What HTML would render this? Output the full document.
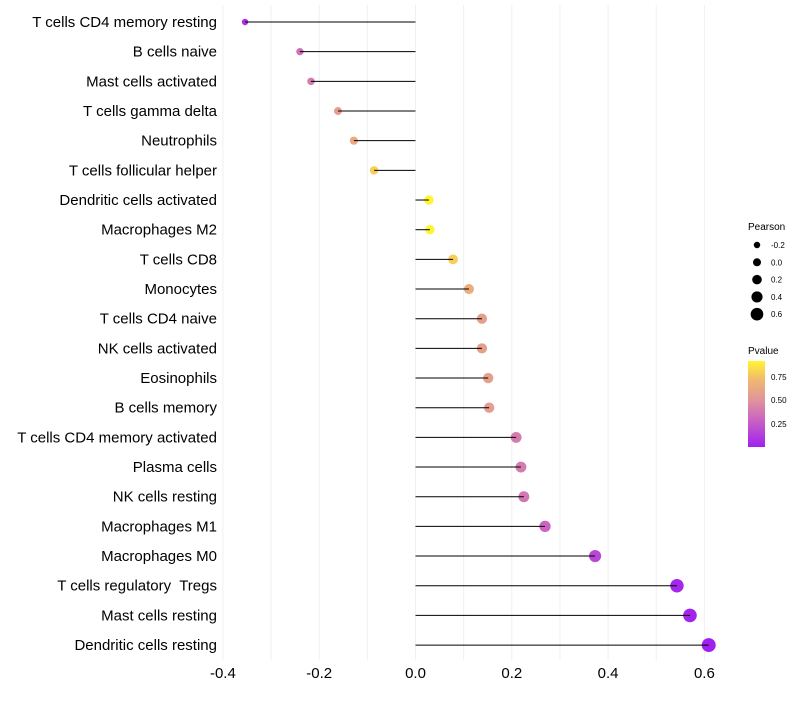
<!DOCTYPE html>
<html><head><meta charset="utf-8"><style>
body{margin:0;background:#fff;font-family:"Liberation Sans",sans-serif}
</style></head><body>
<svg id="c" width="800" height="700" xmlns="http://www.w3.org/2000/svg">
<defs><linearGradient id="pg" x1="0" y1="1" x2="0" y2="0">
<stop offset="0" stop-color="#A020F0"/><stop offset="0.33" stop-color="#CC66C0"/><stop offset="0.55" stop-color="#E0959A"/><stop offset="0.78" stop-color="#F0B870"/><stop offset="1" stop-color="#FFF530"/></linearGradient></defs>
<g id="grid"></g><g id="dots"></g><g id="marks"></g><g id="labels"></g>
<g font-size="10" fill="#000">
<text x="748" y="230" font-size="10">Pearson</text>
<g id="sizeleg"></g></g>
<g>
<text x="748" y="354" font-size="10">Pvalue</text>
<rect x="748" y="361" width="17" height="86" fill="url(#pg)"/>
<g font-size="8"><text x="771" y="380">0.75</text><text x="771" y="403">0.50</text><text x="771" y="427">0.25</text></g>
</g>
</svg>
<script>
const cats=["T cells CD4 memory resting","B cells naive","Mast cells activated","T cells gamma delta","Neutrophils","T cells follicular helper","Dendritic cells activated","Macrophages M2","T cells CD8","Monocytes","T cells CD4 naive","NK cells activated","Eosinophils","B cells memory","T cells CD4 memory activated","Plasma cells","NK cells resting","Macrophages M1","Macrophages M0","T cells regulatory  Tregs","Mast cells resting","Dendritic cells resting"];
const pearson=[-0.354,-0.24,-0.217,-0.161,-0.128,-0.086,0.028,0.030,0.078,0.111,0.138,0.138,0.151,0.153,0.209,0.219,0.225,0.269,0.373,0.543,0.570,0.609];
const pvals=[0.10,0.35,0.40,0.55,0.62,0.78,0.9,0.9,0.78,0.64,0.57,0.57,0.57,0.55,0.40,0.40,0.38,0.30,0.18,0.05,0.04,0.02];
const xticks=[-0.4,-0.2,0,0.2,0.4,0.6];
const sizeLegend=[-0.2,0.0,0.2,0.4,0.6];
const NS="http://www.w3.org/2000/svg";
const x=v=>415.5+v*481.5, y=i=>22+i*29.67, r=v=>Math.max(1.8,4.6+3.9*v);
const stops=[[0,[160,32,240]],[0.33,[204,102,192]],[0.55,[224,149,154]],[0.78,[240,184,112]],[1,[255,245,48]]];
function col(p){const t=Math.min(1,Math.max(0,(p-0.02)/0.88));for(let k=1;k<stops.length;k++){if(t<=stops[k][0]){const a=stops[k-1],b=stops[k],u=(t-a[0])/(b[0]-a[0]);return "rgb("+a[1].map((c,j)=>Math.round(c+(b[1][j]-c)*u)).join(",")+")";}}}
function mk(t,at,p){const e=document.createElementNS(NS,t);for(const k in at)e.setAttribute(k,at[k]);p.appendChild(e);return e;}
const G=document.getElementById("grid"),M=document.getElementById("marks"),D=document.getElementById("dots"),L=document.getElementById("labels");
for(let v=-0.4;v<=0.651;v+=0.1){const g=mk("line",{x1:x(v),x2:x(v),y1:5,y2:660,stroke:"#f0f0f0","stroke-width":1},G);

}
xticks.forEach(v=>{const t=mk("text",{x:x(v),y:678,"text-anchor":"middle","font-size":15,fill:"#000"},L);t.textContent=v===0?"0.0":v.toFixed(1);

});
cats.forEach((c,i)=>{const t=mk("text",{x:217,y:y(i)+5,"text-anchor":"end","font-size":15,fill:"#000",style:"white-space:pre"},L);t.textContent=c;


const d=mk("circle",{cx:x(pearson[i]),cy:y(i),r:r(pearson[i]),fill:col(pvals[i])},D);


const l=mk("line",{x1:x(0),x2:x(pearson[i]),y1:y(i),y2:y(i),stroke:"#000","stroke-width":1},M);

});
const S=document.getElementById("sizeleg");
sizeLegend.forEach((v,i)=>{const cy=245+i*17.3;const d=mk("circle",{cx:757,cy:cy,r:r(v)-0.6,fill:"#000"},S);


const t=mk("text",{x:771,y:cy+3,"font-size":8},S);t.textContent=v.toFixed(1);

});
</script>
</body></html>
